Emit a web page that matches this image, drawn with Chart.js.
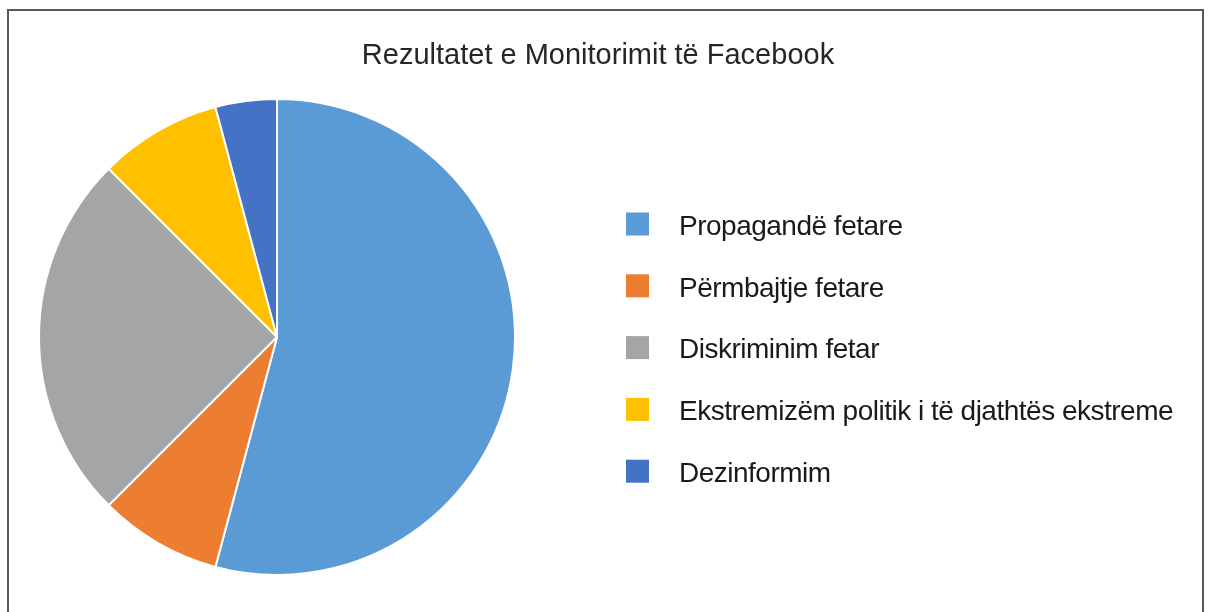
<!DOCTYPE html>
<html>
<head>
<meta charset="utf-8">
<script src="https://cdn.jsdelivr.net/npm/chart.js@4.4.1/dist/chart.umd.min.js"></script>
<style>
    html, body { margin: 0; padding: 0; background: #fff; overflow: hidden; }
    #wrap { position: relative; width: 1212px; height: 612px; }
    #frame { position: absolute; left: 7px; top: 9px; width: 1197px; height: 700px;
             border: 2px solid #595959; box-sizing: border-box; pointer-events: none; }
    #chartPie { position: absolute; left: 0; top: 0; }
</style>
</head>
<body>
<div id="wrap">
    <canvas id="chartPie" width="1212" height="612"></canvas>
    <div id="frame"></div>
</div>
<script>
// data (counts out of 24)
var chartTitle = 'Rezultatet e Monitorimit të Facebook';
var categories = ['Propagandë fetare', 'Përmbajtje fetare', 'Diskriminim fetar',
    'Ekstremizëm politik i të djathtës ekstreme', 'Dezinformim'];
var values = [13, 2, 6, 2, 1];
var colors = ['#5B9BD5', '#ED7D31', '#A5A5A5', '#FFC000', '#4472C4'];

// title + legend drawn on the canvas, from the arrays above
var sideLegend = {
    id: 'sideLegend',
    afterDraw: function (chart) {
        var ctx = chart.ctx;
        ctx.save();
        ctx.fillStyle = '#262626';
        ctx.font = '29px "Liberation Sans", Arial, sans-serif';
        ctx.textAlign = 'center';
        ctx.textBaseline = 'alphabetic';
        ctx.fillText(chartTitle, 598, 64);

        ctx.textAlign = 'left';
        ctx.textBaseline = 'middle';
        ctx.font = '28px "Liberation Sans", Arial, sans-serif';
        ctx.letterSpacing = '-0.5px';
        for (var i = 0; i < categories.length; i++) {
            var y = 224 + i * 61.8;
            ctx.fillStyle = colors[i];
            ctx.fillRect(626, y - 11.5, 23, 23);
            ctx.fillStyle = '#1a1a1a';
            ctx.fillText(categories[i], 679, y + 3);
        }
        ctx.restore();
    }
};

var ctxpie = document.getElementById('chartPie');
var myPieChart = new Chart(ctxpie, {
    type: 'pie',
    data: {
        labels: categories,
        datasets: [{
            data: values,
            backgroundColor: colors,
            borderColor: '#ffffff',
            borderWidth: 2
        }]
    },
    options: {
        responsive: false,
        animation: false,
        layout: { padding: { left: 38, top: 98, right: 696, bottom: 36 } },
        plugins: {
            legend: { display: false },
            title: { display: false },
            tooltip: { enabled: false }
        }
    },
    plugins: [sideLegend]
});
</script>
</body>
</html>
